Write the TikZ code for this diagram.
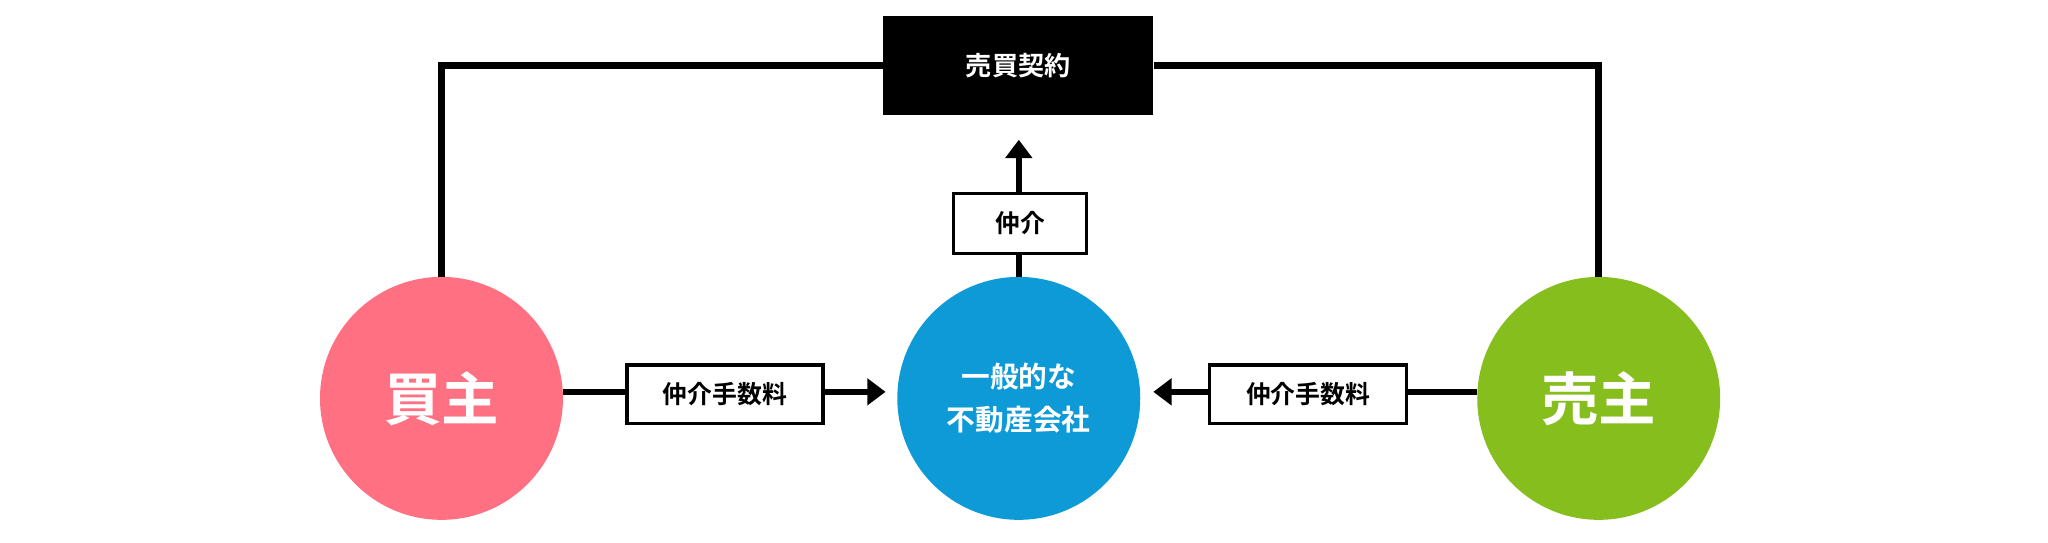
\documentclass[tikz,border=0pt]{standalone}
\usepackage{fontspec}
\newfontfamily\jp{Noto Sans CJK JP}[BoldFont={* Bold}]
\usetikzlibrary{arrows.meta}
\definecolor{pinkc}{HTML}{FF7082}
\definecolor{bluec}{HTML}{0E9AD7}
\definecolor{greenc}{HTML}{86BE1E}
\begin{document}
\begin{tikzpicture}[x=1pt,y=-1pt,
  ln/.style={line width=5pt},
  circ/.style={circle,minimum size=186pt,inner sep=0pt,text=white,font=\jp\bfseries},
  lab/.style={draw,line width=2.5pt,fill=white,font=\jp\bfseries\fontsize{19}{22}\selectfont,inner sep=0pt},
  arr/.style={ln,-{Triangle[length=14pt,width=20pt]}}]
\useasboundingbox (0,0) rectangle (1568,415);
\node[fill=black,text=white,minimum width=207pt,minimum height=76pt,inner sep=0pt,font=\jp\bfseries\fontsize{20}{24}\selectfont] (top) at (779.5,50) {売買契約};
\node[circ,fill=pinkc,font=\jp\bfseries\fontsize{44}{50}\selectfont] (buy) at (338,305) {買主};
\node[circ,fill=bluec,align=center,font=\jp\bfseries\fontsize{22}{33}\selectfont] (mid) at (780,305) {一般的な\\不動産会社};
\node[circ,fill=greenc,font=\jp\bfseries\fontsize{44}{50}\selectfont] (sell) at (1224,305) {売主};
\draw[ln] (buy.north) |- (top.west);
\draw[ln] (sell.north) |- (top.east);
\coordinate (tb) at (780,107);
\draw[arr] (mid.north) -- (tb);
\node[lab,minimum width=102pt,minimum height=46pt] (l1) at (781,171) {仲介};
\coordinate (ml) at (678,300);
\coordinate (mr) at (883,300);
\draw[arr] (buy.east|-ml) -- (ml);
\draw[arr] (sell.west|-mr) -- (mr);
\node[lab,minimum width=150pt,minimum height=45pt] (l2) at (555,302) {仲介手数料};
\node[lab,minimum width=151pt,minimum height=45pt] (l3) at (1001.5,302) {仲介手数料};
\end{tikzpicture}
\end{document}
